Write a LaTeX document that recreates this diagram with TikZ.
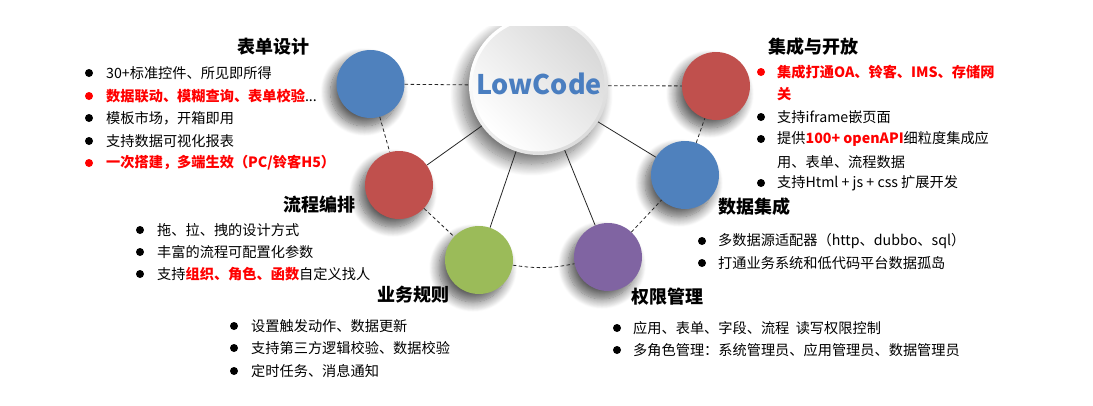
\documentclass[tikz,border=0pt]{standalone}
\usepackage{fontspec}
\setmainfont{Noto Sans CJK SC}
\usetikzlibrary{shadows.blur}
\definecolor{cblue}{HTML}{4F81BD}
\definecolor{cred}{HTML}{C0504D}
\definecolor{cgreen}{HTML}{9BBB59}
\definecolor{cpurple}{HTML}{8064A2}
\definecolor{txtred}{HTML}{FF0000}
\definecolor{lcblue}{HTML}{4A7EC0}
\newcommand\hlred[1]{\textcolor{txtred}{\bfseries #1}}
\tikzset{
  ball/.style={circle, minimum size=68pt, inner sep=0pt,
    blur shadow={shadow xshift=-6pt, shadow yshift=-8pt, shadow blur radius=10pt, shadow blur steps=14, shadow opacity=65}},
  dashline/.style={dash pattern=on 3.5pt off 2.5pt, line width=0.8pt, black!85},
  solidline/.style={line width=0.8pt, black!85},
  ttl/.style={font=\fontsize{18}{18}\selectfont\bfseries, anchor=west, inner sep=0pt},
  itm/.style={font=\fontsize{14.2}{14.2}\selectfont, anchor=west, inner sep=0pt},
  dotb/.style={circle, fill=black, minimum size=8pt, inner sep=0pt},
  dotr/.style={dotb, fill=txtred}
}
\begin{document}
\begin{tikzpicture}[x=1pt,y=-1pt]
\useasboundingbox (0,0) rectangle (1093,405);
% central circle
\begin{scope}
\clip (380,26) rectangle (720,210);
\node[circle, minimum size=139pt, inner sep=0pt, top color=white, bottom color=gray!28, shading angle=45,
  blur shadow={shadow xshift=-7pt, shadow yshift=-9pt, shadow blur radius=12pt, shadow blur steps=16, shadow opacity=55}] (big) at (538.5,85.5) {};
\node[circle, minimum size=132pt, inner sep=0pt, top color=gray!30, bottom color=white, shading angle=-45] (face) at (big.center) {};
\end{scope}
\node[font=\fontsize{27}{27}\selectfont\bfseries, text=lcblue, inner sep=0pt] (lc) at (539,84) {LowCode};
% satellites
\node[ball, fill=cblue] (b1) at (370.5,84) {};
\node[ball, fill=cred] (r2) at (716,86) {};
\node[ball, fill=cred] (r1) at (399,185) {};
\node[ball, fill=cblue] (b2) at (685,175) {};
\node[ball, fill=cgreen] (g1) at (479,260) {};
\node[ball, fill=cpurple] (p1) at (608,257) {};
% connectors
\draw[dashline] (b1) -- (big);
\draw[dashline] (big) -- (r2);
\draw[dashline] (b1) -- (r1);
\draw[dashline] (r1) -- (g1);
\draw[dashline] (g1) to[bend right=10] (p1);
\draw[dashline] (p1) -- (b2);
\draw[dashline] (b2) -- (r2);
\draw[solidline] (big) -- (r1);
\draw[solidline] (big) -- (g1);
\draw[solidline] (big) -- (p1);
\draw[solidline] (big) -- (b2);
% 表单设计
\node[ttl] (t1) at (237,47) {表单设计};
\node[dotb] (d11) at (89,73) {}; \node[itm] (i11) at (106,73) {30+标准控件、所见即所得};
\node[dotr] (d12) at (89,96) {}; \node[itm] (i12) at (106,96) {\hlred{数据联动、模糊查询、表单校验}...};
\node[dotb] (d13) at (89,118) {}; \node[itm] (i13) at (106,118) {模板市场，开箱即用};
\node[dotb] (d14) at (89,141) {}; \node[itm] (i14) at (106,141) {支持数据可视化报表};
\node[dotr] (d15) at (89,163) {}; \node[itm] (i15) at (106,163) {\hlred{一次搭建，多端生效（PC/铃客H5）}};
% 集成与开放
\node[ttl] (t2) at (768,47) {集成与开放};
\node[dotr] (d21) at (761,72) {}; \node[itm] (i21) at (777,72) {\hlred{集成打通OA、铃客、IMS、存储网}};
\node[itm] (i21b) at (777,94) {\hlred{关}};
\node[dotb] (d22) at (761,117) {}; \node[itm] (i22) at (777,117) {支持iframe嵌页面};
\node[dotb] (d23) at (761,139) {}; \node[itm] (i23) at (777,139) {提供\hlred{100+ openAPI}细粒度集成应};
\node[itm] (i23b) at (777,162) {用、表单、流程数据};
\node[dotb] (d24) at (761,183) {}; \node[itm] (i24) at (777,183) {支持Html + js + css 扩展开发};
% 流程编排
\node[ttl] (t3) at (283,205) {流程编排};
\node[dotb] (d31) at (140,230) {}; \node[itm] (i31) at (157,230) {拖、拉、拽的设计方式};
\node[dotb] (d32) at (140,252) {}; \node[itm] (i32) at (157,252) {丰富的流程可配置化参数};
\node[dotb] (d33) at (140,274) {}; \node[itm] (i33) at (157,274) {支持\hlred{组织、角色、函数}自定义找人};
% 业务规则
\node[ttl] (t4) at (377,295) {业务规则};
\node[dotb] (d41) at (234,326) {}; \node[itm] (i41) at (251,326) {设置触发动作、数据更新};
\node[dotb] (d42) at (234,348) {}; \node[itm] (i42) at (251,348) {支持第三方逻辑校验、数据校验};
\node[dotb] (d43) at (234,371) {}; \node[itm] (i43) at (251,371) {定时任务、消息通知};
% 数据集成
\node[ttl] (t5) at (718,207) {数据集成};
\node[dotb] (d51) at (702,241) {}; \node[itm] (i51) at (718,241) {多数据源适配器（http、dubbo、sql）};
\node[dotb] (d52) at (702,263) {}; \node[itm] (i52) at (718,263) {打通业务系统和低代码平台数据孤岛};
% 权限管理
\node[ttl] (t6) at (631,297) {权限管理};
\node[dotb] (d61) at (617,328) {}; \node[itm] (i61) at (633,328) {应用、表单、字段、流程\ \ 读写权限控制};
\node[dotb] (d62) at (617,350) {}; \node[itm] (i62) at (633,350) {多角色管理：系统管理员、应用管理员、数据管理员};
\end{tikzpicture}
\end{document}
